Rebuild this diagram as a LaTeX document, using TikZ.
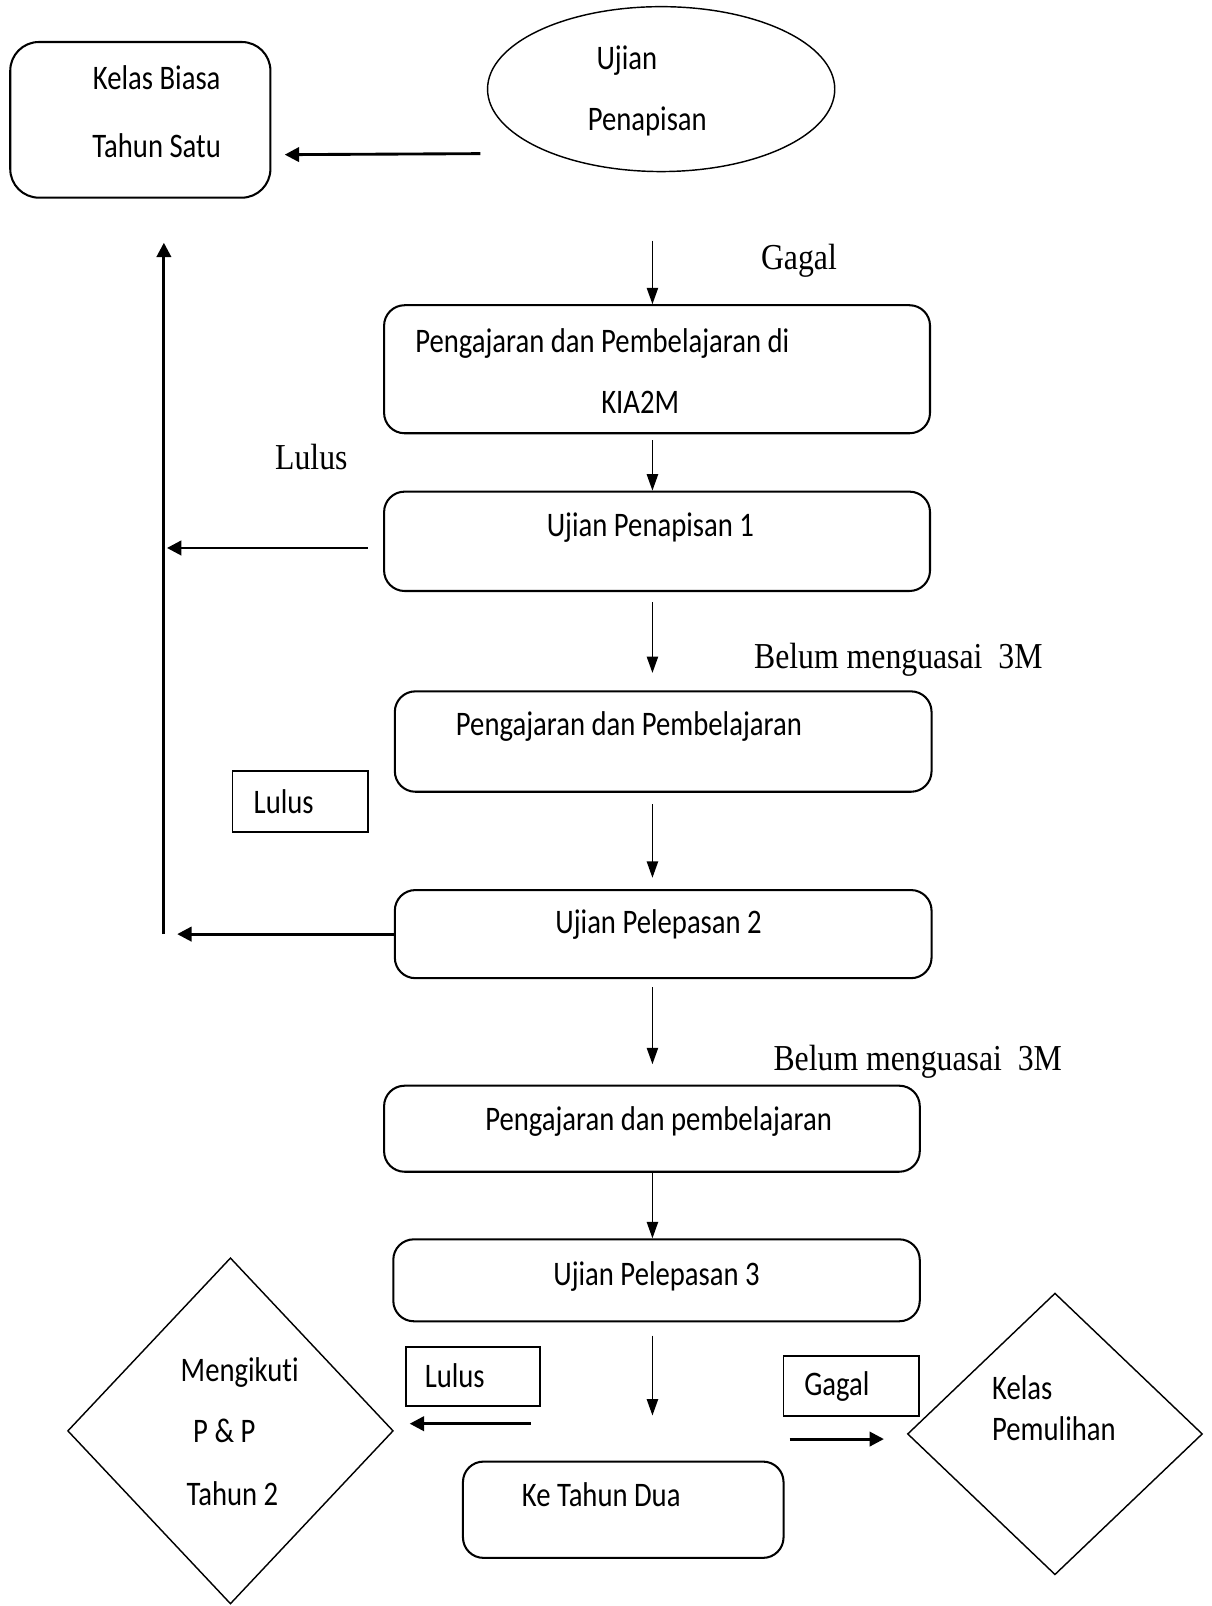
\documentclass[tikz,border=0pt]{standalone}
\usepackage{graphicx}
\usepackage{fontspec}
\setmainfont{Carlito}[Ligatures=NoCommon]
\newfontfamily\tmsfont{Liberation Serif}
\usetikzlibrary{arrows.meta,shapes.geometric}
\newcommand{\sy}[1]{\scalebox{1}[1.2]{#1}}
\newcommand{\st}[1]{\scalebox{1}[1.15]{#1}}
\begin{document}
\begin{tikzpicture}[x=0.5pt,y=-0.5pt,
  rbox/.style={draw, line width=1pt, rounded corners=10pt, inner sep=0pt, rectangle},
  sbox/.style={draw, line width=0.9pt, inner sep=0pt, rectangle},
  dia/.style={draw, diamond, line width=0.7pt, inner sep=0pt},
  txt/.style={font=\fontsize{14}{16}\selectfont, inner sep=0pt, anchor=mid, yshift=-3pt},
  tms/.style={font=\tmsfont\fontsize{15.5}{18}\selectfont, inner sep=0pt, anchor=mid, yshift=-3.5pt},
  thin/.style={line width=0.75pt, -{Triangle[length=8pt,width=5.5pt]}},
  thick/.style={line width=1.4pt, -{Triangle[length=7pt,width=7pt]}}]
\useasboundingbox (0,0) rectangle (1183,1568);

% shapes
\node[rbox, rounded corners=14pt, minimum width=127pt, minimum height=76pt] (kb) at (137,117) {};
\node[draw, ellipse, line width=0.7pt, inner sep=0pt, minimum width=169.5pt, minimum height=80.5pt] (ell) at (645.5,87) {};
\node[rbox, minimum width=266.5pt, minimum height=62.5pt] (b1) at (641.5,360.5) {};
\node[rbox, minimum width=266.5pt, minimum height=48.5pt] (b2) at (641.5,528.5) {};
\node[rbox, minimum width=262pt, minimum height=49pt] (b3) at (647.5,724) {};
\node[sbox, minimum width=66pt, minimum height=29.5pt] (l2) at (293,782.5) {};
\node[rbox, minimum width=262pt, minimum height=43pt] (b4) at (647.5,912) {};
\node[rbox, minimum width=261.5pt, minimum height=42pt] (b5) at (636.5,1102) {};
\node[rbox, minimum width=257pt, minimum height=40pt] (b6) at (641,1250) {};
\node[dia, minimum width=159pt, minimum height=169pt] (dl) at (225,1397) {};
\node[sbox, minimum width=65.5pt, minimum height=28.5pt] (lb3) at (462,1344) {};
\node[sbox, minimum width=66pt, minimum height=29.5pt] (gb) at (831,1353) {};
\node[rbox, minimum width=156.5pt, minimum height=47pt] (kt) at (608.5,1474) {};
\node[dia, minimum width=144pt, minimum height=137.5pt] (dr) at (1030,1400) {};

% texts
\node[txt] (t1) at (153,77) {\sy{Kelas Biasa}};
\node[txt] (t2) at (153,143) {\sy{Tahun Satu}};
\node[txt] (t3) at (612,57) {\sy{Ujian}};
\node[txt] (t4) at (632,117) {\sy{Penapisan}};
\node[txt] (t5) at (588,333) {\sy{Pengajaran dan Pembelajaran di}};
\node[txt] (t6) at (625,393) {\sy{KIA2M}};
\node[txt] (t7) at (635,513) {\sy{Ujian Penapisan 1}};
\node[txt] (t8) at (614,707) {\sy{Pengajaran dan Pembelajaran}};
\node[txt] (t9) at (277,783) {\sy{Lulus}};
\node[txt] (t10) at (643,901) {\sy{Ujian Pelepasan 2}};
\node[txt] (t11) at (643,1093) {\sy{Pengajaran dan pembelajaran}};
\node[txt] (t12) at (641,1244) {\sy{Ujian Pelepasan 3}};
\node[txt] (t13) at (234,1338) {\sy{Mengikuti}};
\node[txt] (t14) at (219,1398) {\sy{P \& P}};
\node[txt] (t15) at (227,1459) {\sy{Tahun 2}};
\node[txt] (t16) at (444,1344) {\sy{Lulus}};
\node[txt] (t17) at (817,1352) {\sy{Gagal}};
\node[txt] (t18) at (587,1460) {\sy{Ke Tahun Dua}};
\node[txt] (t19) at (998,1356) {\sy{Kelas}};
\node[txt] (t20) at (1029,1396) {\sy{Pemulihan}};
\node[tms] (g1) at (780,251) {\st{Gagal}};
\node[tms] (g2) at (304,447) {\st{Lulus}};
\node[tms] (g3) at (877,641) {\st{Belum menguasai\ \ 3M}};
\node[tms] (g4) at (896,1033) {\st{Belum menguasai\ \ 3M}};

% free ends of connectors
\coordinate (a1s) at (469,150);
\coordinate (a1e) at (278,151);
\coordinate (a2s) at (637,235);
\coordinate (a3s) at (637,430);
\coordinate (a4s) at (637,588);
\coordinate (a4e) at (637,657);
\coordinate (a5s) at (637,785);
\coordinate (a5e) at (637,857);
\coordinate (a6s) at (637,964);
\coordinate (a6e) at (637,1039);
\coordinate (a8s) at (637,1304);
\coordinate (a8e) at (637,1382);
\coordinate (l1s) at (359,535);
\coordinate (l1e) at (163,535);
\coordinate (vb) at (160,912);
\coordinate (vt) at (160,237);
\coordinate (l2e) at (173,912);
\coordinate (l3s) at (518,1390);
\coordinate (l3e) at (400,1390);
\coordinate (r3s) at (771,1405);
\coordinate (r3e) at (863,1405);

% connectors
\draw[thick] (a1s) -- (a1e);
\draw[thin] (a2s) -- (a2s |- b1.north);
\draw[thin] (a3s) -- (a3s |- b2.north);
\draw[thin] (a4s) -- (a4e);
\draw[thin] (a5s) -- (a5e);
\draw[thin] (a6s) -- (a6e);
\draw[thin] (a6s |- b5.south) -- (a6s |- b6.north);
\draw[thin] (a8s) -- (a8e);
\draw[thick] (l1s) -- (l1e);
\draw[thick] (vb) -- (vt);
\draw[thick] (b4.west |- vb) -- (l2e);
\draw[thick] (l3s) -- (l3e);
\draw[thick] (r3s) -- (r3e);
\end{tikzpicture}
\end{document}
